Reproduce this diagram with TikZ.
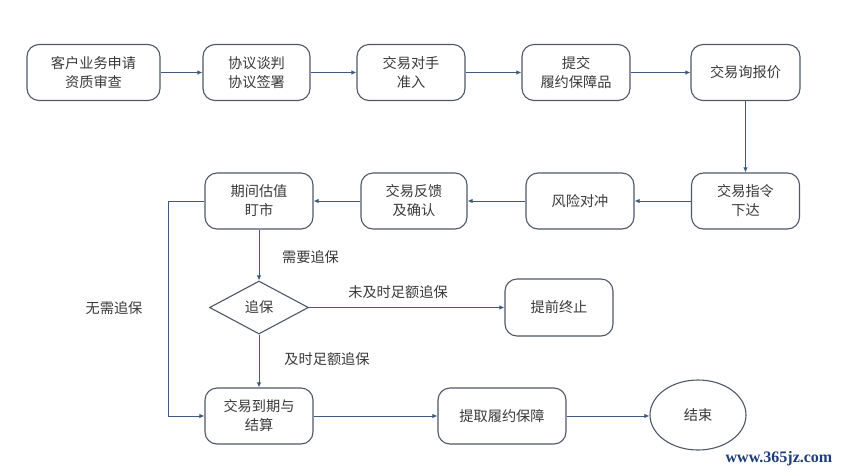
\documentclass[tikz,border=0pt]{standalone}
\usepackage{fontspec}
\setmainfont{Noto Sans CJK SC}
\newfontfamily\wmfont{Liberation Serif}
\usetikzlibrary{arrows.meta,shapes.geometric}
\definecolor{boxline}{HTML}{4E5866}
\definecolor{arrowline}{HTML}{3F5A7E}
\definecolor{txt}{HTML}{3A3A3A}
\definecolor{wm}{HTML}{1E3C78}
\tikzset{
  x=1pt, y=-1pt,
  every node/.style={font=\fontsize{14.2}{19}\selectfont, text=txt},
  procbox/.style={draw=boxline, line width=1.1pt, rounded corners=12pt, minimum height=56pt, align=center, inner sep=0pt},
  decbox/.style={draw=boxline, line width=1.1pt, diamond, aspect=1.87, minimum width=99pt, minimum height=53pt, inner sep=0pt},
  endbox/.style={draw=boxline, line width=1.1pt, ellipse, minimum width=96pt, minimum height=70pt, inner sep=0pt},
  flow/.style={draw=arrowline, line width=1pt, -{Latex[length=5pt,width=4.5pt]}},
  lbl/.style={inner sep=0pt}
}
\begin{document}
\begin{tikzpicture}
\useasboundingbox[fill=white] (0,0) rectangle (844,475);
% top row
\node[procbox, minimum width=133pt] (b1) at (93.5,72.5) {客户业务申请\\资质审查};
\node[procbox, minimum width=107pt] (b2) at (256.5,72.5) {协议谈判\\协议签署};
\node[procbox, minimum width=108pt] (b3) at (411,72.5) {交易对手\\准入};
\node[procbox, minimum width=108pt] (b4) at (576,72.5) {提交\\履约保障品};
\node[procbox, minimum width=109pt] (b5) at (745.5,72.5) {交易询报价};
% second row
\node[procbox, minimum width=108pt] (c1) at (745.5,201) {交易指令\\下达};
\node[procbox, minimum width=108pt] (c2) at (580,201) {风险对冲};
\node[procbox, minimum width=106pt] (c3) at (414,201) {交易反馈\\及确认};
\node[procbox, minimum width=108pt] (c4) at (259,201) {期间估值\\盯市};
% decision
\node[decbox] (d) at (259,307.5) {追保};
\node[procbox, minimum width=108pt, minimum height=57pt] (e) at (559,307.5) {提前终止};
% bottom row
\node[procbox, minimum width=108pt] (f) at (259,416) {交易到期与\\结算};
\node[procbox, minimum width=128pt] (g) at (502,416) {提取履约保障};
\node[endbox] (h) at (698,415) {结束};
\coordinate (lc) at (168,201);
% arrows
\draw[flow] (b1) -- (b2);
\draw[flow] (b2) -- (b3);
\draw[flow] (b3) -- (b4);
\draw[flow] (b4) -- (b5);
\draw[flow] (b5) -- (c1);
\draw[flow] (c1) -- (c2);
\draw[flow] (c2) -- (c3);
\draw[flow] (c3) -- (c4);
\draw[flow] (c4) -- (d);
\draw[flow] (d) -- (e);
\draw[flow] (d) -- (f);
\draw[flow] (c4.west) -- (lc) |- (f.west);
\draw[flow] (f) -- (g);
\draw[flow] (g.east) -- (g.east -| h.west);
% labels
\node[lbl] (l1) at (310.5,257) {需要追保};
\node[lbl] (l2) at (398,292) {未及时足额追保};
\node[lbl] (l3) at (327,359) {及时足额追保};
\node[lbl] (l4) at (114,308) {无需追保};
\node[lbl, font=\wmfont\bfseries\fontsize{16}{18}\selectfont, text=wm] (wmk) at (779,459) {www.365jz.com};
\end{tikzpicture}
\end{document}
